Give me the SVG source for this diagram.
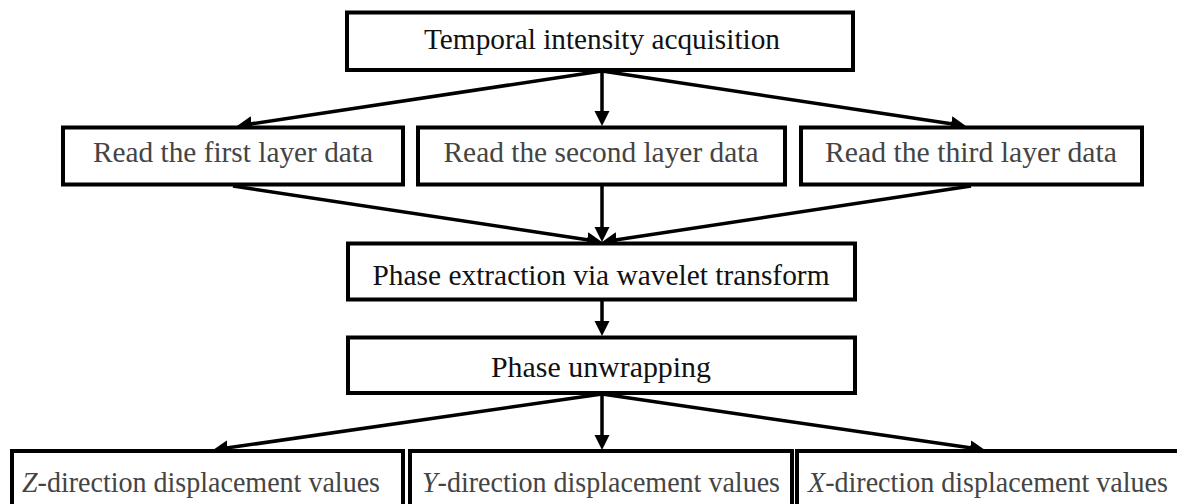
<svg xmlns="http://www.w3.org/2000/svg" width="1177" height="504" viewBox="0 0 1177 504">
  <style>
    .box { fill: #fff; stroke: #000; stroke-width: 4; }
    .lbl { font-family: "Liberation Serif", "DejaVu Serif", serif; font-size: 28.5px; text-anchor: middle; }
    .dark { fill: #111; }
    .grey { fill: #444; }
    .edge { stroke: #000; stroke-width: 3.5; fill: none; marker-end: url(#head); }
  </style>
  <defs>
    <marker id="head" markerUnits="userSpaceOnUse" markerWidth="16" markerHeight="16" refX="5" refY="7.5" orient="auto">
      <path d="M0,0 L15,7.5 L0,15 z" fill="#000"/>
    </marker>
  </defs>
  <rect width="1177" height="504" fill="#fff"/>

  <g id="connectors">
    <line class="edge" x1="602" y1="71" x2="246.9" y2="124.5"/>
    <line class="edge" x1="602" y1="71" x2="602" y2="116"/>
    <line class="edge" x1="602" y1="71" x2="956.1" y2="124.5"/>

    <line class="edge" x1="233" y1="186" x2="592.1" y2="240.5"/>
    <line class="edge" x1="602" y1="186" x2="602" y2="232"/>
    <line class="edge" x1="971" y1="186" x2="611.9" y2="240.5"/>

    <line class="edge" x1="602" y1="301" x2="602" y2="326"/>

    <line class="edge" x1="602" y1="394" x2="222.9" y2="448.6"/>
    <line class="edge" x1="602" y1="394" x2="602" y2="440"/>
    <line class="edge" x1="602" y1="394" x2="975.1" y2="448.6"/>
  </g>

  <g id="acquisition">
    <rect class="box" x="347" y="12.5" width="506" height="57.5"/>
    <text class="lbl dark" x="602" y="49" textLength="356" lengthAdjust="spacingAndGlyphs">Temporal intensity acquisition</text>
  </g>

  <g id="layer1">
    <rect class="box" x="63" y="127.5" width="340" height="57"/>
    <text class="lbl grey" x="233" y="162" textLength="280" lengthAdjust="spacingAndGlyphs">Read the first layer data</text>
  </g>
  <g id="layer2">
    <rect class="box" x="418" y="127.5" width="367" height="57"/>
    <text class="lbl grey" x="601" y="162" textLength="315" lengthAdjust="spacingAndGlyphs">Read the second layer data</text>
  </g>
  <g id="layer3">
    <rect class="box" x="801" y="127.5" width="341" height="57"/>
    <text class="lbl grey" x="971" y="162" textLength="292" lengthAdjust="spacingAndGlyphs">Read the third layer data</text>
  </g>

  <g id="extraction">
    <rect class="box" x="348" y="243.5" width="507" height="56"/>
    <text class="lbl dark" x="601" y="285" textLength="457" lengthAdjust="spacingAndGlyphs">Phase extraction via wavelet transform</text>
  </g>

  <g id="unwrapping">
    <rect class="box" x="348" y="337.5" width="507" height="55.5"/>
    <text class="lbl dark" x="601" y="377" textLength="220" lengthAdjust="spacingAndGlyphs">Phase unwrapping</text>
  </g>

  <g id="z-values">
    <rect class="box" x="12" y="451" width="391" height="70"/>
    <text class="lbl grey" x="201" y="492" textLength="358" lengthAdjust="spacingAndGlyphs"><tspan font-style="italic">Z</tspan>-direction displacement values</text>
  </g>
  <g id="y-values">
    <rect class="box" x="410" y="451" width="382" height="70"/>
    <text class="lbl grey" x="601" y="492" textLength="358" lengthAdjust="spacingAndGlyphs"><tspan font-style="italic">Y</tspan>-direction displacement values</text>
  </g>
  <g id="x-values">
    <rect class="box" x="797" y="451" width="400" height="70"/>
    <text class="lbl grey" x="988" y="492" textLength="360" lengthAdjust="spacingAndGlyphs"><tspan font-style="italic">X</tspan>-direction displacement values</text>
  </g>
</svg>
